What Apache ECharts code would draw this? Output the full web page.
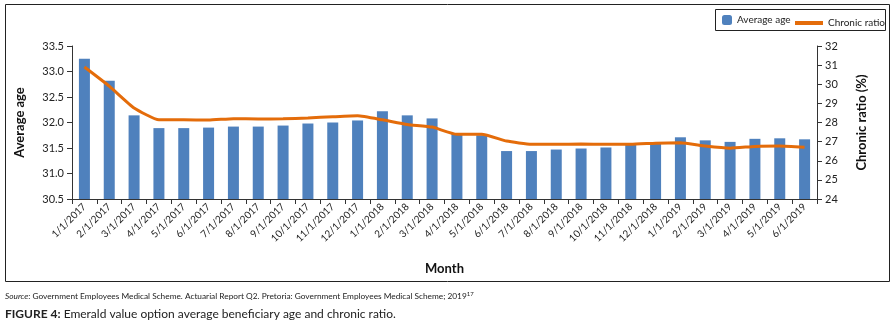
<!DOCTYPE html>
<html>
<head>
<meta charset="utf-8">
<script src="https://cdn.jsdelivr.net/npm/echarts@6/dist/echarts.min.js"></script>
<style>
  html, body { margin: 0; padding: 0; background: #fff; }
  #chart { width: 894px; height: 328px; }
</style>
</head>
<body>
<div id="chart"></div>
<script>
var months = [
  "1/1/2017", "2/1/2017", "3/1/2017", "4/1/2017", "5/1/2017", "6/1/2017",
  "7/1/2017", "8/1/2017", "9/1/2017", "10/1/2017", "11/1/2017", "12/1/2017",
  "1/1/2018", "2/1/2018", "3/1/2018", "4/1/2018", "5/1/2018", "6/1/2018",
  "7/1/2018", "8/1/2018", "9/1/2018", "10/1/2018", "11/1/2018", "12/1/2018",
  "1/1/2019", "2/1/2019", "3/1/2019", "4/1/2019", "5/1/2019", "6/1/2019"
];
var averageAge = [
  33.25, 32.82, 32.14, 31.89, 31.89, 31.90, 31.92, 31.92, 31.94, 31.98,
  32.00, 32.04, 32.22, 32.14, 32.08, 31.78, 31.75, 31.44, 31.44, 31.47,
  31.49, 31.51, 31.57, 31.60, 31.71, 31.65, 31.62, 31.68, 31.69, 31.67
];
var chronicRatio = [
  30.9, 29.9, 28.76, 28.14, 28.14, 28.13, 28.2, 28.18, 28.19, 28.24,
  28.3, 28.35, 28.14, 27.9, 27.76, 27.38, 27.39, 27.03, 26.86, 26.86,
  26.87, 26.86, 26.86, 26.92, 26.94, 26.77, 26.66, 26.75, 26.77, 26.7
];

var font = "Lato, 'Open Sans', sans-serif";
var txt = "#222";
var chart = echarts.init(document.getElementById("chart"));

var option = {
  animation: false,
  textStyle: { fontFamily: font, color: txt },
  grid: { left: 72, right: 77, top: 46, bottom: 129 },
  legend: [
    {
      data: ["Average age"],
      left: 722, top: 15, padding: 0,
      itemWidth: 10, itemHeight: 10, itemGap: 0,
      textStyle: { fontFamily: font, fontSize: 10, color: txt }
    },
    {
      data: ["Chronic ratio"],
      left: 795, top: 18, padding: 0,
      itemWidth: 28, itemHeight: 4, icon: "rect",
      textStyle: { fontFamily: font, fontSize: 10, color: txt }
    }
  ],
  xAxis: {
    type: "category",
    data: months,
    name: "Month",
    nameLocation: "middle",
    nameGap: 63,
    nameTextStyle: { fontFamily: font, fontSize: 13, fontWeight: "bold", color: "#111" },
    axisLine: { lineStyle: { color: "#333" } },
    axisTick: { show: true, length: 5, lineStyle: { color: "#333" } },
    axisLabel: { rotate: 45, fontSize: 10, color: txt, margin: 6, interval: 0 }
  },
  yAxis: [
    {
      type: "value",
      min: 30.5, max: 33.5, interval: 0.5,
      name: "Average age",
      nameLocation: "middle",
      nameGap: 46,
      nameTextStyle: { fontFamily: font, fontSize: 13, fontWeight: "bold", color: "#111" },
      axisLine: { show: true, lineStyle: { color: "#333" } },
      axisTick: { show: true, length: 5, lineStyle: { color: "#333" } },
      axisLabel: { fontSize: 11, color: txt, margin: 8, formatter: function (v) { return v.toFixed(1); } },
      splitLine: { show: false }
    },
    {
      type: "value",
      min: 24, max: 32, interval: 1,
      name: "Chronic ratio (%)",
      nameLocation: "middle",
      nameGap: 38,
      nameRotate: 90,
      nameTextStyle: { fontFamily: font, fontSize: 13, fontWeight: "bold", color: "#111" },
      axisLine: { show: true, lineStyle: { color: "#333" } },
      axisTick: { show: true, length: 5, lineStyle: { color: "#333" } },
      axisLabel: { fontSize: 11, color: txt, margin: 8 },
      splitLine: { show: false }
    }
  ],
  series: [
    {
      name: "Average age",
      type: "bar",
      data: averageAge,
      barWidth: 11,
      itemStyle: { color: "#4F81BD" }
    },
    {
      name: "Chronic ratio",
      type: "line",
      yAxisIndex: 1,
      data: chronicRatio,
      symbol: "none",
      smooth: 0.15,
      lineStyle: { color: "#E46C0A", width: 3 },
      itemStyle: { color: "#E46C0A" }
    }
  ],
  graphic: [
    {
      type: "rect",
      shape: { x: 5.5, y: 4.5, width: 884, height: 277 },
      style: { fill: null, stroke: "#222", lineWidth: 1 },
      silent: true
    },
    {
      type: "rect",
      shape: { x: 715.5, y: 9.5, width: 170, height: 21 },
      style: { fill: null, stroke: "#222", lineWidth: 1 },
      silent: true
    },
    {
      type: "text",
      left: 5, top: 291,
      style: {
        text: "{i|Source}: Government Employees Medical Scheme. Actuarial Report Q2. Pretoria: Government Employees Medical Scheme; 2019{s|17}",
        fontFamily: font, fontSize: 8.3, fill: "#222",
        rich: {
          i: { fontStyle: "italic", fontFamily: font, fontSize: 8.3 },
          s: { fontFamily: font, fontSize: 6, padding: [0, 0, 5, 0] }
        }
      }
    },
    {
      type: "text",
      left: 5, top: 308,
      style: {
        text: "{b|FIGURE 4:} Emerald value option average beneficiary age and chronic ratio.",
        fontFamily: font, fontSize: 12, fill: "#222",
        rich: {
          b: { fontWeight: "bold", fontFamily: font, fontSize: 12 }
        }
      }
    }
  ]
};

chart.setOption(option);
window.addEventListener("resize", function () {
  chart.resize();
});
</script>
</body>
</html>
